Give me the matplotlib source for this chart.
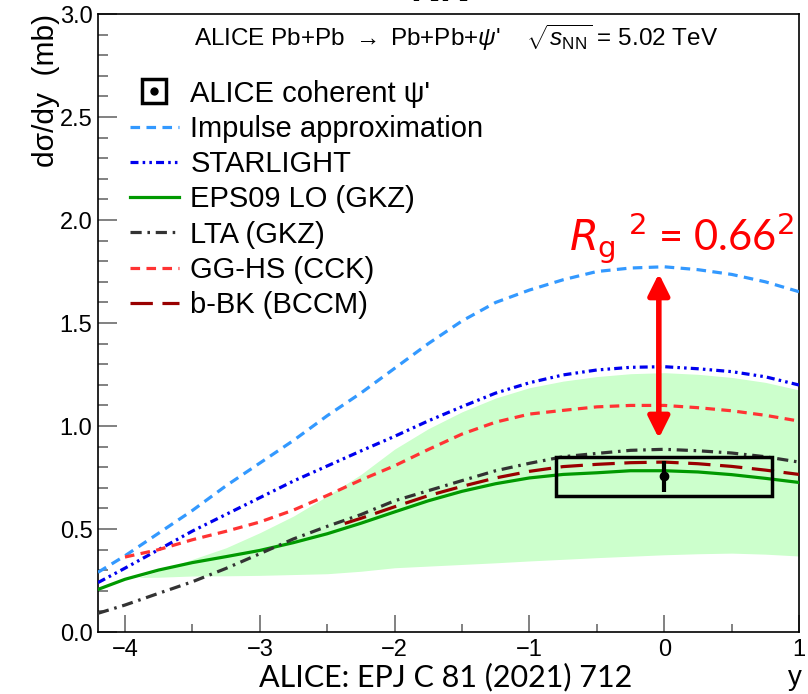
import matplotlib
matplotlib.use("Agg")
import matplotlib.pyplot as plt
from matplotlib.patches import Rectangle
from matplotlib.lines import Line2D
from matplotlib.ticker import MultipleLocator

plt.rcParams['font.family'] = ['Liberation Sans', 'DejaVu Sans']
plt.rcParams['mathtext.fontset'] = 'custom'
plt.rcParams['mathtext.rm'] = 'Liberation Sans'
plt.rcParams['mathtext.it'] = 'Liberation Sans:italic'

# model curves (rapidity y)
y_grid = [-4.2, -4.0, -3.75, -3.5, -3.25, -3.0, -2.75, -2.5, -2.25, -2.0, -1.75,
          -1.5, -1.25, -1.0, -0.75, -0.5, -0.25, 0.0, 0.25, 0.5, 0.75, 1.0]
impulse = [0.29, 0.37, 0.48, 0.59, 0.71, 0.82, 0.93, 1.05, 1.16, 1.28, 1.40,
           1.51, 1.60, 1.66, 1.71, 1.75, 1.767, 1.773, 1.759, 1.736, 1.70, 1.652]
starlight = [0.24, 0.31, 0.40, 0.49, 0.571, 0.652, 0.733, 0.806, 0.879, 0.95, 1.025,
             1.094, 1.16, 1.21, 1.248, 1.272, 1.285, 1.288, 1.278, 1.264, 1.239, 1.199]
eps09 = [0.207, 0.256, 0.301, 0.337, 0.366, 0.396, 0.434, 0.477, 0.528, 0.583, 0.637,
         0.683, 0.72, 0.748, 0.765, 0.773, 0.783, 0.783, 0.777, 0.764, 0.746, 0.726]
lta = [0.091, 0.131, 0.188, 0.244, 0.309, 0.38, 0.452, 0.513, 0.57, 0.637, 0.686,
       0.735, 0.783, 0.819, 0.851, 0.867, 0.882, 0.887, 0.880, 0.869, 0.851, 0.825]

gghs_x = y_grid[1:]
gghs = [0.364, 0.40, 0.448, 0.489, 0.534, 0.592, 0.663, 0.738, 0.807, 0.886,
        0.961, 1.019, 1.058, 1.076, 1.093, 1.10, 1.10, 1.089, 1.074, 1.052, 1.024]

bbk_x = [-2.37, -2.25, -2.0, -1.75, -1.5, -1.25, -1.0, -0.75, -0.5, -0.25, 0.0,
         0.25, 0.5, 0.75, 1.0]
bbk = [0.527, 0.552, 0.608, 0.662, 0.707, 0.748, 0.780, 0.803, 0.814, 0.822, 0.825,
       0.817, 0.804, 0.786, 0.765]

# EPS09 uncertainty band
band_x = [-3.9] + y_grid[2:]
band_lo = [0.265, 0.266, 0.272, 0.273, 0.275, 0.279, 0.283, 0.295, 0.312, 0.32, 0.328,
           0.336, 0.345, 0.353, 0.361, 0.368, 0.375, 0.38, 0.383, 0.378, 0.369]
band_hi = [0.265, 0.296, 0.353, 0.409, 0.482, 0.563, 0.66, 0.765, 0.888, 0.987, 1.069,
           1.136, 1.186, 1.218, 1.24, 1.254, 1.259, 1.251, 1.236, 1.212, 1.175]

# ALICE measurement
data_x = [0.0]
data_y = [0.755]
data_stat = [0.075]
data_sys = [0.095]
data_halfwidth = [0.8]

fig = plt.figure(figsize=(8.08, 6.94), dpi=100)
ax = fig.add_axes([0.1213, 0.0893, 0.8676, 0.8905])

ax.fill_between(band_x, band_lo, band_hi, color='#ccffcc', lw=0, zorder=1)

styles = [
    (y_grid, impulse, '#3399ff', (0, (3, 2))),
    (y_grid, starlight, '#0000ee', (0, (2.5, 1.3, 0.8, 1.3, 0.8, 1.3))),
    (y_grid, eps09, '#009900', '-'),
    (y_grid, lta, '#333333', (0, (3.5, 1.8, 0.8, 1.8))),
    (gghs_x, gghs, '#ff3333', (0, (3, 2))),
    (bbk_x, bbk, '#990000', (0, (7, 3))),
]
for xs, ys, c, ls in styles:
    ax.plot(xs, ys, color=c, ls=ls, lw=2.3, zorder=3)

# data point with systematic box
for xv, yv, st, sy, hw in zip(data_x, data_y, data_stat, data_sys, data_halfwidth):
    ax.add_patch(Rectangle((xv - hw, yv - sy), 2 * hw, 2 * sy, fill=False,
                           ec='black', lw=2.5, zorder=5))
ax.errorbar(data_x, data_y, yerr=data_stat, fmt='o', color='black', ms=6,
            elinewidth=3, capsize=0, zorder=6)

ax.set_xlim(-4.2, 1.0)
ax.set_ylim(0.0, 3.0)
ax.xaxis.set_major_locator(MultipleLocator(1))
ax.xaxis.set_minor_locator(MultipleLocator(0.5))
ax.yaxis.set_major_locator(MultipleLocator(0.5))
ax.yaxis.set_minor_locator(MultipleLocator(0.1))
ax.tick_params(axis='both', which='both', direction='in', color='#777777',
               width=1.3, labelsize=17, top=False, right=False)
ax.tick_params(axis='y', which='major', length=14, pad=4)
ax.tick_params(axis='y', which='minor', length=7)
ax.tick_params(axis='x', which='major', length=12, pad=5)
ax.tick_params(axis='x', which='minor', length=6)
ax.set_xticks([-4, -3, -2, -1, 0, 1])
ax.set_xticklabels(['\u22124', '\u22123', '\u22122', '\u22121', '0', '1'])
ax.set_yticks([0.0, 0.5, 1.0, 1.5, 2.0, 2.5, 3.0])
ax.set_yticklabels(['0.0', '0.5', '1.0', '1.5', '2.0', '2.5', '3.0'])
for s in ax.spines.values():
    s.set_linewidth(1.2)

ax.set_ylabel('d\u03c3/dy  (mb)', fontsize=21.5, loc='top', labelpad=0)

ax.text(0.511, 0.961,
        r"ALICE Pb+Pb $\rightarrow$ Pb+Pb+$\psi$'    $\sqrt{s_{\rm NN}}$ = 5.02 TeV",
        transform=ax.transAxes, ha='center', va='center', fontsize=17.5)

handles = [
    (Line2D([], [], ls='none', marker='s', ms=17, mfc='none', mec='black', mew=2.5),
     Line2D([], [], ls='none', marker='o', ms=5, color='black')),
]
labels = ["ALICE coherent \u03c8'"]
names = ['Impulse approximation', 'STARLIGHT', 'EPS09 LO (GKZ)', 'LTA (GKZ)',
         'GG-HS (CCK)', 'b-BK (BCCM)']
for (xs, ys, c, ls), name in zip(styles, names):
    handles.append(Line2D([], [], color=c, ls=ls, lw=2.3))
    labels.append(name)
ax.legend(handles, labels, loc='upper left', bbox_to_anchor=(0.045, 0.894),
          frameon=False, fontsize=21, handlelength=1.7, handletextpad=0.38,
          labelspacing=0.25, borderpad=0, borderaxespad=0)

ax.text(-0.71, 1.85, r"$R_{\rm g}$ $^2$ = 0.66$^2$", color='red',
        fontsize=30, family=['Lato', 'DejaVu Sans'], ha='left', va='baseline',
        math_fontfamily='dejavusans')
ax.annotate('', xy=(-0.04, 1.74), xytext=(-0.04, 0.94),
            arrowprops=dict(arrowstyle='<|-|>', color='red', lw=4,
                            mutation_scale=32, shrinkA=0, shrinkB=0), zorder=7)

fig.text(0.551, 0.004, 'ALICE: EPJ C 81 (2021) 712', ha='center', va='bottom',
         fontsize=22, family=['Lato', 'DejaVu Sans'])
fig.text(0.984, 0.005, 'y', ha='center', va='bottom', fontsize=20)
fig.text(0.545, 0.986, 'NN', ha='center', va='bottom', fontsize=30,
         fontweight='bold')

fig.savefig('out.png', dpi=100)
